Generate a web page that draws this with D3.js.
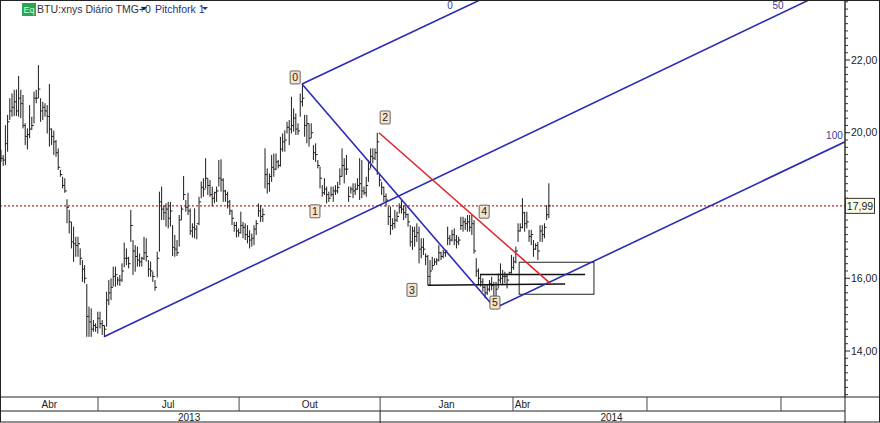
<!DOCTYPE html>
<html><head><meta charset="utf-8">
<script src="https://cdn.jsdelivr.net/npm/d3@7/dist/d3.min.js"></script>
<style>html,body{margin:0;padding:0;background:#fff}svg{display:block}text{font-family:"Liberation Sans",Arial,sans-serif}</style>
</head><body><svg id="c" width="880" height="423"></svg>
<script>
const highs=[19.53,19.39,20.21,20.49,20.95,21.08,21.18,21.19,21.56,21.18,21.04,20.26,20.12,20.76,20.44,21.13,21.18,21.86,20.95,20.85,20.81,20.76,21.34,20.12,20.06,19.80,19.57,18.98,18.79,18.75,18.17,17.88,17.55,17.42,17.14,17.14,16.82,16.50,16.36,15.84,15.22,15.17,14.85,14.76,15.08,15.08,14.85,14.71,15.63,15.95,16.00,16.32,16.32,16.04,
16.09,16.41,16.98,16.82,16.59,17.88,17.05,16.91,16.87,16.68,16.59,17.14,17.10,16.50,16.46,16.18,15.95,16.73,18.38,18.52,18.01,18.06,18.10,18.10,17.46,17.19,17.05,17.74,17.97,18.81,18.15,18.35,17.92,17.51,17.92,17.46,18.24,18.66,18.75,19.30,18.75,18.70,18.52,18.38,18.52,19.25,19.27,18.75,18.43,18.38,18.15,17.88,17.55,17.55,17.37,17.83,17.55,17.51,17.46,17.32,17.23,17.46,17.60,18.06,18.01,17.92,
19.57,19.02,18.88,19.39,19.43,19.43,19.25,19.89,19.98,20.07,20.30,20.35,20.99,20.67,20.53,20.26,21.08,21.34,20.49,20.49,20.26,20.26,19.66,19.71,19.25,19.07,18.56,18.75,18.52,18.38,18.52,18.52,18.56,18.65,19.02,19.57,19.30,19.39,18.52,18.52,18.61,18.61,18.75,19.30,19.25,18.52,18.79,19.25,19.57,19.57,19.57,20.00,18.88,18.65,18.52,18.33,
17.97,17.97,17.65,17.88,17.83,18.06,18.15,18.01,17.97,17.78,17.46,17.42,17.42,17.51,17.42,17.10,17.10,16.68,16.64,16.50,16.59,16.55,16.55,16.91,16.73,16.78,16.78,17.42,17.19,17.33,17.37,17.19,17.14,17.69,17.69,17.65,17.74,17.74,17.74,17.60,16.55,16.27,16.09,
16.00,15.81,15.81,15.95,16.04,15.90,15.90,16.13,16.41,16.23,16.18,16.13,16.18,16.64,16.59,16.87,17.51,17.51,18.20,17.83,17.83,17.33,17.33,17.05,16.96,17.00,17.46,17.46,17.51,18.01,18.61];
const lows=[19.20,19.09,19.11,19.48,20.35,20.44,20.46,20.46,20.44,20.40,20.12,19.66,19.54,19.85,20.08,20.26,20.81,20.95,20.30,20.35,20.44,19.98,19.62,19.66,19.39,19.34,18.98,18.79,18.47,18.35,17.51,17.23,16.82,16.45,16.59,16.59,16.36,15.90,15.86,14.39,14.39,14.39,14.53,14.53,14.48,14.62,14.44,14.39,14.67,15.26,15.40,15.77,15.77,15.81,
15.79,15.90,16.30,16.36,16.27,17.00,16.09,16.18,16.32,16.32,16.32,16.50,16.46,16.04,16.04,15.90,15.66,16.02,16.73,17.60,17.60,17.42,17.37,17.42,16.61,16.59,16.61,16.87,17.60,18.15,17.83,17.74,17.19,17.12,17.10,17.07,17.46,18.20,18.24,18.47,18.29,18.24,17.97,18.06,18.10,18.52,18.38,18.10,18.10,17.92,17.74,17.46,17.28,17.12,17.14,17.23,17.10,17.05,16.96,16.82,16.87,16.91,17.19,17.69,17.55,17.55,
18.47,18.33,18.38,18.65,18.79,18.97,19.02,19.07,19.48,19.48,19.98,19.66,19.98,20.03,19.94,19.94,20.44,20.72,19.89,19.71,19.62,19.85,19.25,19.20,19.02,18.47,18.24,18.29,18.06,18.10,18.24,18.10,18.29,18.33,18.56,18.79,18.61,18.84,18.10,18.33,18.20,18.29,18.43,18.15,18.20,18.29,18.24,18.65,19.02,19.16,19.25,18.84,18.52,18.29,18.10,17.97,
17.46,17.19,17.33,17.37,17.55,17.78,17.78,17.60,17.65,17.42,16.87,16.78,16.87,17.00,16.41,16.55,16.64,16.36,15.81,15.81,16.23,16.36,16.36,16.46,16.50,16.55,16.59,16.91,16.91,17.01,16.91,16.82,16.91,17.33,17.28,17.33,17.28,17.28,17.19,16.68,16.04,15.81,15.77,
15.63,15.45,15.54,15.63,15.67,15.22,15.49,15.72,15.86,15.81,15.86,15.72,16.09,16.13,16.23,16.41,17.00,17.28,17.37,17.28,17.37,17.00,16.91,16.59,16.78,16.50,17.00,17.00,17.10,17.60,17.65];
const closes=[19.30,19.25,19.70,20.30,20.60,20.70,20.85,20.60,20.95,20.80,20.20,19.90,19.95,20.10,20.20,20.95,20.95,21.20,20.60,20.70,20.60,20.45,20.10,19.90,19.75,19.45,19.05,18.85,18.55,18.40,17.95,17.55,17.00,16.95,16.90,16.95,16.55,16.25,16.00,14.95,14.80,14.60,14.70,14.65,14.90,14.75,14.70,14.60,15.40,15.60,15.75,16.05,16.10,15.95,
15.95,16.20,16.55,16.55,16.40,17.45,16.75,16.60,16.50,16.45,16.55,16.70,16.60,16.25,16.20,16.05,15.75,16.55,18.10,17.90,17.80,17.90,17.65,17.85,16.85,16.80,16.70,17.60,17.90,18.30,17.95,17.85,17.30,17.40,17.35,17.50,18.10,18.50,18.45,18.75,18.55,18.30,18.20,18.35,18.40,18.75,18.70,18.40,18.30,18.10,17.85,17.65,17.45,17.30,17.25,17.45,17.40,17.20,17.15,17.05,17.10,17.35,17.50,17.85,17.70,17.75,
18.85,18.60,18.80,19.05,19.00,19.20,19.10,19.55,19.75,19.80,20.15,20.10,20.20,20.40,20.10,20.05,20.85,20.95,20.20,20.25,19.85,20.00,19.45,19.40,19.10,18.75,18.35,18.45,18.30,18.20,18.30,18.40,18.40,18.50,18.80,19.10,19.00,19.00,18.25,18.45,18.40,18.45,18.55,18.60,18.40,18.35,18.55,19.00,19.35,19.30,19.45,19.75,18.70,18.50,18.25,18.15,
17.70,17.45,17.50,17.60,17.70,17.95,17.90,17.80,17.75,17.55,17.00,17.30,17.15,17.25,16.80,16.85,16.80,16.60,16.05,16.20,16.35,16.45,16.50,16.70,16.60,16.70,16.75,17.10,17.05,17.20,17.05,17.00,17.05,17.45,17.55,17.50,17.55,17.40,17.50,16.75,16.20,16.00,15.90,
15.75,15.60,15.70,15.85,15.80,15.50,15.70,15.95,16.00,16.05,16.05,15.95,16.15,16.30,16.45,16.75,17.30,17.40,17.80,17.50,17.55,17.15,17.20,16.80,16.90,16.75,17.30,17.20,17.40,17.75,17.99];
const lastPrice=17.99;
const yMajor=[22,20,16,14];
const yMinor=[23.6,23.4,23.2,23,22.8,22.6,22.4,22.2,21.8,21.6,21.4,21.2,21,20.8,20.6,20.4,20.2,19.8,19.6,19.4,19.2,19,18.8,18.6,18.4,18.2,18,17.8,17.6,17.4,17.2,17,16.8,16.6,16.4,16.2,15.8,15.6,15.4,15.2,15,14.8,14.6,14.4,14.2,13.8,13.6,13.4,13.2,13,12.8];
const quarterEdges=[44.1,108.2,172.3,232.7,293.6,354.5];
const quarterLabels=[["Abr",22,"middle"],["Jul",76,"middle"],["Out",140.3,"middle"],["Jan",202.5,"middle"],["Abr",233.5,"start"]];
const yearEdge=172.3;
const yearLabels=[["2013",85.5],["2014",277.5]];
const forkLines=[[136.8,21.34,217.7,23.65],[46.8,14.39,367.2,23.65],[224.5,15.18,383.6,19.75],[136.8,21.34,224.5,15.18]];
const redLine=[171.8,20.0,250,15.84];
const blackLines=[[194,15.81,256.4,15.84],[217.7,16.1,265.5,16.1]];
const boxRange=[235.5,16.44,269.5,15.56];
const pointTags=[["0",133.7,21.52],["1",142.7,17.84],["2",174.6,20.42],["3",186.8,15.68],["4",219.6,17.83],["5",224.5,15.33]];
const forkTags=[["0",204.1,23.49],["50",353.2,23.49],["100",378.8,19.92]];

const svg=d3.select("#c");
const x=d3.scaleLinear().domain([0,383.6]).range([1,845]);
const y=d3.scaleLinear().domain([22,14]).range([60,351]);
svg.append("defs").append("clipPath").attr("id","plot").append("rect").attr("x",1).attr("y",1).attr("width",844).attr("height",396);
const plot=svg.append("g").attr("clip-path","url(#plot)");

// Dotted last-price line
plot.append("line").attr("x1",0).attr("x2",845).attr("y1",y(lastPrice)).attr("y2",y(lastPrice))
 .attr("stroke","#b5262a").attr("stroke-width",1.4).attr("stroke-dasharray","2,2");

// OHLC bars
const bars=plot.append("g").attr("stroke","#1c1c1c").attr("stroke-width",1);
highs.forEach((h,i)=>{
  bars.append("line").attr("x1",x(i)).attr("x2",x(i)).attr("y1",y(h)).attr("y2",y(lows[i]));
  bars.append("line").attr("x1",x(i)).attr("x2",x(i)+2).attr("y1",y(closes[i])).attr("y2",y(closes[i]));
});

// Box and horizontal lines
plot.append("rect").attr("x",x(boxRange[0])).attr("y",y(boxRange[1]))
 .attr("width",x(boxRange[2])-x(boxRange[0])).attr("height",y(boxRange[3])-y(boxRange[1]))
 .attr("fill","none").attr("stroke","#222").attr("stroke-width",1);
plot.selectAll(".bl").data(blackLines).join("line").attr("x1",d=>x(d[0])).attr("y1",d=>y(d[1])).attr("x2",d=>x(d[2])).attr("y2",d=>y(d[3]))
 .attr("stroke","#111").attr("stroke-width",1.5);

// Pitchfork
plot.selectAll(".fk").data(forkLines).join("line").attr("x1",d=>x(d[0])).attr("y1",d=>y(d[1])).attr("x2",d=>x(d[2])).attr("y2",d=>y(d[3]))
 .attr("stroke","#2b2bb5").attr("stroke-width",1.6);
plot.append("line").attr("x1",x(redLine[0])).attr("y1",y(redLine[1])).attr("x2",x(redLine[2])).attr("y2",y(redLine[3]))
 .attr("stroke","#e0262c").attr("stroke-width",1.6);

// Fork percentage labels
svg.selectAll(".ft").data(forkTags).join("text").attr("x",d=>x(d[1])).attr("y",d=>y(d[2])+3.5).attr("text-anchor","middle")
 .attr("font-size",10).attr("fill","#3a3a95").text(d=>d[0]);

// Pivot tags
const tags=svg.selectAll(".pt").data(pointTags).join("g").attr("transform",d=>`translate(${x(d[1])},${y(d[2])})`);
tags.append("rect").attr("x",-5).attr("y",-6.5).attr("width",10).attr("height",13).attr("fill","#f6e3cc").attr("stroke","#444").attr("stroke-width",.8).attr("rx",1);
tags.append("text").attr("y",3.8).attr("text-anchor","middle").attr("font-size",10.5).attr("fill","#222").text(d=>d[0]);

// Right axis
const ax=svg.append("g");
ax.append("line").attr("x1",845).attr("x2",845).attr("y1",0).attr("y2",397).attr("stroke","#222").attr("stroke-width",1.4);
ax.selectAll(".mn").data(yMinor).join("line").attr("x1",845).attr("x2",848).attr("y1",d=>y(d)).attr("y2",d=>y(d)).attr("stroke","#333");
ax.selectAll(".mj").data(yMajor).join("line").attr("x1",845).attr("x2",850).attr("y1",d=>y(d)).attr("y2",d=>y(d)).attr("stroke","#222");
ax.selectAll(".lb").data(yMajor).join("text").attr("x",851).attr("y",d=>y(d)+3.6).attr("font-size",10.5).attr("fill","#222")
 .text(d=>d3.format(".2f")(d).replace(".",","));
const tag=svg.append("g");
tag.append("rect").attr("x",845.5).attr("y",y(lastPrice)-7.5).attr("width",29).attr("height",15).attr("fill","#fbfbe6").attr("stroke","#333");
tag.append("text").attr("x",860).attr("y",y(lastPrice)+3.8).attr("text-anchor","middle").attr("font-size",10.5).attr("fill","#222").text(d3.format(".2f")(lastPrice).replace(".",","));

// Frame and time bands
const frame=svg.append("g").attr("stroke","#222").attr("fill","none");
frame.append("rect").attr("x",.5).attr("y",.5).attr("width",879).attr("height",421.5).attr("stroke-width",1);
frame.append("line").attr("x1",0).attr("x2",880).attr("y1",397).attr("y2",397);
frame.append("line").attr("x1",0).attr("x2",845).attr("y1",411).attr("y2",411);
frame.append("line").attr("x1",845).attr("x2",845).attr("y1",397).attr("y2",423);
frame.selectAll(".q").data(quarterEdges).join("line").attr("x1",d=>x(d)).attr("x2",d=>x(d)).attr("y1",397).attr("y2",411).attr("stroke","#444");
frame.append("line").attr("x1",x(yearEdge)).attr("x2",x(yearEdge)).attr("y1",411).attr("y2",423);
svg.selectAll(".ql").data(quarterLabels).join("text").attr("x",d=>x(d[1])).attr("y",408).attr("text-anchor",d=>d[2])
 .attr("font-size",10).attr("fill","#222").text(d=>d[0]);
svg.selectAll(".yl").data(yearLabels).join("text").attr("x",d=>x(d[1])).attr("y",420.5).attr("text-anchor","middle")
 .attr("font-size",10).attr("fill","#222").text(d=>d[0]);

// Header
svg.append("rect").attr("x",22).attr("y",3).attr("width",14).attr("height",13).attr("fill","#2aa653");
svg.append("text").attr("x",29).attr("y",13).attr("text-anchor","middle").attr("font-size",9).attr("fill","#d8f5dc").text("Eq");
svg.append("text").attr("x",37).attr("y",13).attr("font-size",10.5).attr("fill","#333").text("BTU:xnys Diário TMG+0");
svg.append("path").attr("d",d3.line()([[141,7],[147,7],[144,10]])+"Z").attr("fill","#222");
svg.append("text").attr("x",155).attr("y",13).attr("font-size",10.5).attr("fill","#2b2b8f").text("Pitchfork 1");
svg.append("path").attr("d",d3.line()([[202,7],[208,7],[205,10]])+"Z").attr("fill","#2b2b8f");
</script></body></html>
